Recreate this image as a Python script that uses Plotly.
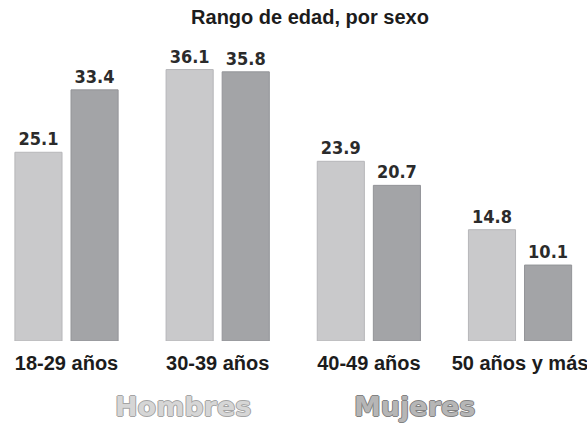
import plotly.graph_objects as go

# Datos
rangos = ['18-29 años', '30-39 años', '40-49 años', '50 años y más']
hombres = [25.1, 36.1, 23.9, 14.8]
mujeres = [33.4, 35.8, 20.7, 10.1]
series = ['Hombres', 'Mujeres']

color_h = '#c9c9cb'
color_m = '#a3a4a7'
fuente_valores = 'Liberation Sans Narrow, Arial Narrow, DejaVu Sans Condensed, sans-serif'

fig = go.Figure()

for nombre, valores, color, borde in [
    (series[0], hombres, color_h, '#b6b6b9'),
    (series[1], mujeres, color_m, '#939498'),
]:
    fig.add_trace(go.Bar(
        x=rangos,
        y=valores,
        name=nombre,
        marker=dict(color=color, line=dict(color=borde, width=1)),
        text=valores,
        texttemplate='%{text:.1f}',
        textposition='outside',
        textfont=dict(family=fuente_valores, size=18, color='#2b2b2b', weight='bold'),
        cliponaxis=False,
    ))

fig.update_layout(
    width=587,
    height=424,
    barmode='group',
    bargap=0.258,
    bargroupgap=0.16,
    showlegend=False,
    plot_bgcolor='white',
    paper_bgcolor='white',
    margin=dict(l=0, r=0, t=41, b=83),
    title=dict(
        text='<b>Rango de edad, por sexo</b>',
        x=310 / 587, xanchor='center', xref='container',
        y=1 - 17 / 424, yanchor='middle', yref='container',
        font=dict(family='Liberation Sans, Arial, sans-serif', size=20, color='#1c1c1c'),
    ),
    xaxis=dict(
        range=[-0.44, 3.443],
        showgrid=False, showline=False, zeroline=False,
        ticks='', automargin=False,
        ticklabelstandoff=8,
        tickfont=dict(family='Liberation Sans, Arial, sans-serif', size=20, color='#1c1c1c', weight='bold'),
    ),
    yaxis=dict(
        range=[0, 39.9],
        visible=False,
    ),
)

# Leyenda como texto coloreado bajo el gráfico (área de trazado: y 41..341 px)
for nombre, xpos, relleno, contorno in [
    (series[0], 183, '#d6d6d6', '#a4a4a4'),
    (series[1], 414, '#b6b6b6', '#828282'),
]:
    sombra = ', '.join(f'{dx}px {dy}px 0 {contorno}' for dx, dy in [(1, 0), (-1, 0), (0, 1), (0, -1)])
    fig.add_annotation(
        text=f'<b>{nombre}</b>',
        x=xpos / 587, xref='paper', xanchor='center',
        y=(341 - 406) / 300, yref='paper', yanchor='middle',
        showarrow=False,
        font=dict(family='DejaVu Sans, sans-serif', size=27, color=relleno, shadow=sombra),
    )

# quitar el margen por defecto del body para que la figura empiece en (0, 0)
fig.write_html(
    'out.html',
    config={'displayModeBar': False},
    post_script="document.body.style.margin='0px';",
)
